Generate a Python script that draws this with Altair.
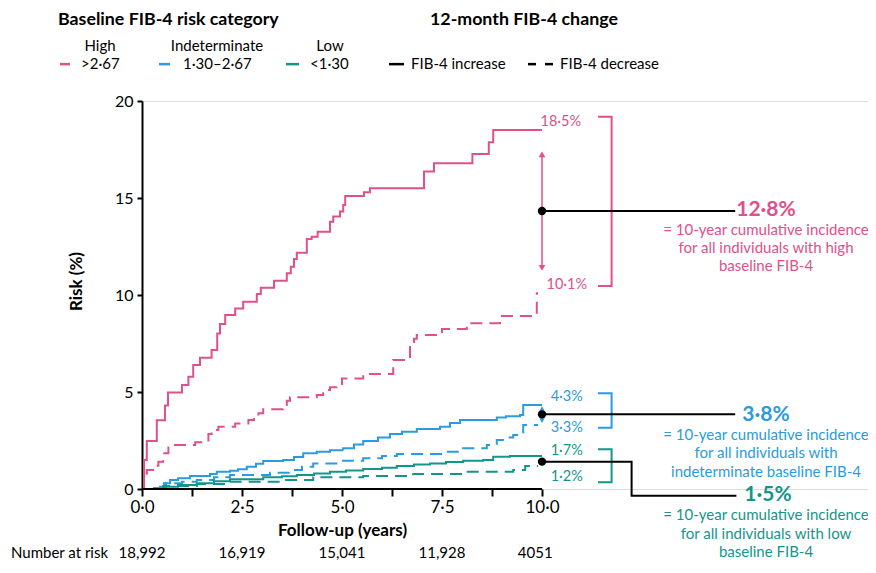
import altair as alt
import pandas as pd

FONT = "Lato"
PINK = "#E0508A"
BLUE = "#2A9BE0"
TEAL = "#13968A"

groups = ["High", "Indeterminate", "Low"]
group_colors = [PINK, BLUE, TEAL]

# ---- Kaplan-Meier style cumulative risk curves (years, %) ----
hi_inc_x = [0, 0.05, 0.12, 0.37, 0.45, 0.575, 0.65, 1.0, 1.16, 1.28, 1.45, 1.74, 1.88, 1.95, 2.08, 2.33, 2.53,
            2.87, 2.97, 3.3, 3.62, 3.72, 3.8, 3.87, 4.12, 4.24, 4.39, 4.7, 4.78, 4.95, 5.03, 5.08, 5.55, 5.7,
            7.05, 7.3, 8.26, 8.67, 8.78, 10.0]
hi_inc_y = [0, 1.5, 2.47, 3.55, 3.55, 4.3, 4.98, 5.36, 5.79, 6.39, 6.77, 7.16, 8.02, 8.5, 8.97, 9.31, 9.65,
            10.05, 10.38, 10.74, 11.12, 11.46, 11.86, 12.18, 12.89, 13.0, 13.26, 13.78, 14.04, 14.3, 14.64, 15.1,
            15.3, 15.5, 16.36, 16.79, 17.27, 17.87, 18.5, 18.5]

hi_dec_x = [0, 0.05, 0.12, 0.33, 0.41, 0.53, 0.66, 1.33, 1.66, 1.74, 1.91, 2.33, 2.66, 2.8, 2.91, 3.03, 3.53,
            3.62, 3.7, 4.37, 4.53, 4.7, 4.86, 5.0, 5.53, 6.28, 6.7, 6.8, 6.87, 7.5, 8.12, 8.95, 9.87, 9.9]
hi_dec_y = [0, 0.5, 0.98, 1.2, 1.41, 1.84, 2.27, 2.41, 2.84, 3.04, 3.21, 3.38, 3.56, 3.75, 3.9, 4.11, 4.33,
            4.55, 4.73, 4.85, 5.1, 5.25, 5.41, 5.7, 5.93, 6.65, 7.51, 7.75, 7.94, 8.25, 8.54, 8.92, 10.09, 10.09]

ind_inc_x = [0, 0.3, 0.45, 0.55, 0.7, 0.9, 1.2, 1.7, 1.87, 2.2, 2.4, 2.62, 2.85, 3.03, 3.53, 3.8, 4.03, 4.37,
             4.7, 5.03, 5.3, 5.53, 5.9, 6.2, 6.5, 6.87, 7.45, 7.7, 7.95, 8.87, 9.1, 9.45, 9.53, 10.0]
ind_inc_y = [0, 0.05, 0.12, 0.3, 0.46, 0.55, 0.67, 0.77, 0.89, 0.94, 1.02, 1.15, 1.3, 1.44, 1.49, 1.65, 1.84,
             1.92, 2.0, 2.1, 2.3, 2.47, 2.65, 2.84, 2.95, 3.09, 3.21, 3.4, 3.56, 3.69, 3.75, 3.81, 4.33, 4.33]

ind_dec_x = [0, 0.3, 0.6, 1.0, 1.37, 1.8, 2.2, 3.2, 3.7, 4.0, 4.28, 4.9, 5.53, 6.0, 6.37, 7.53, 8.03, 8.62,
             8.87, 9.1, 9.28, 9.53, 9.9]
ind_dec_y = [0, 0.08, 0.3, 0.38, 0.46, 0.6, 0.72, 0.84, 0.98, 1.15, 1.32, 1.45, 1.58, 1.7, 1.8, 1.92, 2.1, 2.27,
             2.53, 2.65, 2.78, 3.3, 3.3]

low_inc_x = [0, 0.53, 0.9, 1.37, 1.8, 2.2, 3.03, 3.5, 3.87, 4.3, 4.7, 5.1, 5.53, 6.0, 6.37, 6.8, 7.2, 7.6,
             8.03, 8.53, 8.78, 9.2, 10.0]
low_inc_y = [0, 0.12, 0.2, 0.29, 0.4, 0.5, 0.6, 0.66, 0.72, 0.8, 0.89, 0.96, 1.03, 1.1, 1.19, 1.26, 1.32, 1.39,
             1.46, 1.49, 1.66, 1.7, 1.7]

low_dec_x = [0, 0.53, 1.37, 2.2, 3.45, 4.28, 5.53, 6.78, 8.03, 9.28, 9.58, 9.9]
low_dec_y = [0, 0.15, 0.26, 0.38, 0.46, 0.6, 0.67, 0.77, 0.89, 0.98, 1.19, 1.19]

# ---- end-of-follow-up values and overall 10-year incidence ----
end_labels = ["18·5%", "10·1%", "4·3%", "3·3%", "1·7%", "1·2%"]
end_groups = ["High", "High", "Indeterminate", "Indeterminate", "Low", "Low"]
overall_labels = ["12·8%", "3·8%", "1·5%"]
overall_desc = [
    ["= 10-year cumulative incidence", "for all individuals with high", "baseline FIB-4"],
    ["= 10-year cumulative incidence", "for all individuals with", "indeterminate baseline FIB-4"],
    ["= 10-year cumulative incidence", "for all individuals with low", "baseline FIB-4"],
]

legend_headers = ["High", "Indeterminate", "Low"]
legend_ranges = [">2·67", "1·30–2·67", "<1·30"]
change_labels = ["FIB-4 increase", "FIB-4 decrease"]

risk_times = [0, 2.5, 5.0, 7.5, 9.83]
risk_numbers = ["18,992", "16,919", "15,041", "11,928", "4051"]

x_ticks = [0, 1.25, 2.5, 3.75, 5.0, 6.25, 7.5, 8.75, 10.0]
y_ticks = [0, 5, 10, 15, 20]

# ---------------- build tables ----------------
rows = []
for name, grp, chg, xs_, ys_ in [
    ("hi_inc", "High", "increase", hi_inc_x, hi_inc_y),
    ("hi_dec", "High", "decrease", hi_dec_x, hi_dec_y),
    ("ind_inc", "Indeterminate", "increase", ind_inc_x, ind_inc_y),
    ("ind_dec", "Indeterminate", "decrease", ind_dec_x, ind_dec_y),
    ("low_inc", "Low", "increase", low_inc_x, low_inc_y),
    ("low_dec", "Low", "decrease", low_dec_x, low_dec_y),
]:
    for a, b in zip(xs_, ys_):
        rows.append({"series": name, "group": grp, "change": chg, "x": a, "y": b})
curves = pd.DataFrame(rows)

PLOT_W = 726
XMAX = PLOT_W / 40.0
xscale = alt.Scale(domain=[0, XMAX], nice=False, zero=False)
yscale = alt.Scale(domain=[0, 20], nice=False)
cscale = alt.Scale(domain=groups, range=group_colors)

xaxis = alt.Axis(
    values=x_ticks, domain=False, grid=False, tickSize=7, tickWidth=2, tickColor="black",
    labelExpr="datum.value % 2.5 == 0 ? replace(format(datum.value, '.1f'), '.', '·') : ''",
    labelFont=FONT, labelFontSize=17, labelColor="black", labelPadding=3, labelFlush=False,
    title="Follow-up (years)", titleFont=FONT, titleFontSize=17, titleFontWeight="bold",
    titleColor="black", titleX=200, titleY=41, titleBaseline="middle", titleAlign="center",
)
yaxis = alt.Axis(
    values=y_ticks, grid=False, domainColor="black", domainWidth=2, tickSize=5, tickWidth=2,
    tickColor="black", labelFont=FONT, labelFontSize=16, labelColor="black", labelPadding=4,
    title="Risk (%)", titleFont=FONT, titleFontSize=17, titleFontWeight="bold", titleColor="black",
    titleX=-66, titleY=180, titleBaseline="middle", titleAlign="center", titleAngle=-90,
)

X = alt.X("x:Q", scale=xscale, axis=xaxis)
Y = alt.Y("y:Q", scale=yscale, axis=yaxis)
C = alt.Color("group:N", scale=cscale, legend=None)

lines = alt.Chart(curves).mark_line(interpolate="step-after", strokeWidth=2).encode(
    x=X, y=Y, color=C,
    strokeDash=alt.StrokeDash("change:N", scale=alt.Scale(domain=["increase", "decrease"],
                                                          range=[[1, 0], [12, 7]]), legend=None),
    detail="series:N",
)


def text_layer(df, color=None, **kw):
    enc = dict(x=X, y=Y, text="t:N")
    if color is None:
        enc["color"] = C
        return alt.Chart(df).mark_text(font=FONT, **kw).encode(**enc)
    return alt.Chart(df).mark_text(font=FONT, color=color, **kw).encode(**enc)


# x-axis baseline (0 to 10 only)
axis_line = alt.Chart(pd.DataFrame({"x": [0], "x2": [10], "y": [0]})).mark_rule(
    color="black", strokeWidth=2).encode(x=X, x2="x2:Q", y=Y)

# end labels
end_x = [10.47, 10.62, 10.62, 10.62, 10.62, 10.62]
end_y = [18.93, 10.52, 4.76, 3.16, 1.97, 0.6]
end_df = pd.DataFrame({"x": end_x, "y": end_y, "t": end_labels, "group": end_groups})
end_text = text_layer(end_df, fontSize=14.5, align="center", baseline="middle")

# brackets
br_rows = []
for gid, (top, bot) in zip(groups, [(19.19, 10.46), (4.93, 3.16), (2.05, 0.35)]):
    for i, (bx, by) in enumerate([(11.4, top), (11.74, top), (11.74, bot), (11.4, bot)]):
        br_rows.append({"group": gid, "x": bx, "y": by, "o": i})
brackets = alt.Chart(pd.DataFrame(br_rows)).mark_line(strokeWidth=2).encode(
    x=X, y=Y, order="o:Q", detail="group:N", color=C)

# double arrows
arrow_rule = alt.Chart(pd.DataFrame({"x": [10.0, 10.0], "y": [11.45, 3.6], "y2": [17.2, 4.1],
                                     "group": ["High", "Indeterminate"]})).mark_rule(strokeWidth=1.5).encode(
    x=X, y=Y, y2="y2:Q", color=C)
arrow_up = alt.Chart(pd.DataFrame({"x": [10.0, 10.0], "y": [17.25, 4.15], "group": ["High", "Indeterminate"],
                                   "s": [45, 25]})).mark_point(
    shape="triangle-up", filled=True, opacity=1).encode(
    x=X, y=Y, size=alt.Size("s:Q", scale=None, legend=None), color=C)
arrow_dn = alt.Chart(pd.DataFrame({"x": [10.0, 10.0], "y": [11.4, 3.52], "group": ["High", "Indeterminate"],
                                   "s": [45, 25]})).mark_point(
    shape="triangle-down", filled=True, opacity=1).encode(
    x=X, y=Y, size=alt.Size("s:Q", scale=None, legend=None), color=C)

# leader lines (black)
lead_rows = []
for lid, pts in [("h", [(10.0, 14.33), (14.83, 14.33)]),
                 ("i", [(10.0, 3.85), (14.83, 3.85)]),
                 ("l", [(10.0, 1.41), (12.24, 1.41), (12.24, -0.345), (14.86, -0.345)])]:
    for i, (lx, ly) in enumerate(pts):
        lead_rows.append({"lid": lid, "x": lx, "y": ly, "o": i})
leaders = alt.Chart(pd.DataFrame(lead_rows)).mark_line(color="black", strokeWidth=2).encode(
    x=X, y=Y, order="o:Q", detail="lid:N")
dots = alt.Chart(pd.DataFrame({"x": [10.0, 10.0, 10.0], "y": [14.33, 3.85, 1.41]})).mark_circle(
    color="black", size=70, opacity=1).encode(x=X, y=Y)

# overall values and descriptions
CX = 15.6
ov_df = pd.DataFrame({"x": [CX, CX, CX + 0.05], "y": [14.38, 3.81, -0.3],
                      "t": overall_labels, "group": groups})
ov_text = text_layer(ov_df, fontSize=21, fontWeight="bold", align="center", baseline="middle")
desc_rows = []
for grp, lines3, ys3 in zip(groups, overall_desc,
                            [[13.35, 12.41, 11.51], [2.78, 1.84, 0.89], [-1.36, -2.3, -3.24]]):
    for t, yy in zip(lines3, ys3):
        desc_rows.append({"x": CX, "y": yy, "t": t, "group": grp})
desc_text = text_layer(pd.DataFrame(desc_rows), fontSize=15, align="center", baseline="middle")

# legend block
head_df = pd.DataFrame({"x": [-2.1, 7.2], "y": [24.2, 24.2],
                        "t": ["Baseline FIB-4 risk category", "12-month FIB-4 change"]})
head_text = text_layer(head_df, color="black", fontSize=17.8, fontWeight="bold", align="left",
                       baseline="middle")
lh_df = pd.DataFrame({"x": [-1.05, 1.875, 4.7], "y": [22.84] * 3, "t": legend_headers})
lh_text = text_layer(lh_df, color="black", fontSize=15, align="center", baseline="middle")
lr_df = pd.DataFrame({"x": [-1.525, 1.025, 4.2], "y": [21.9] * 3, "t": legend_ranges, "group": groups})
lr_text = text_layer(lr_df, color="black", fontSize=15, align="left", baseline="middle")
lc_df = pd.DataFrame({"x": [6.725, 10.45], "y": [21.9] * 2, "t": change_labels})
lc_text = text_layer(lc_df, color="black", fontSize=15, align="left", baseline="middle")
sw_df = pd.DataFrame({"x": [-2.05, 0.425, 3.6], "x2": [-1.8, 0.7, 3.925], "y": [21.9] * 3, "group": groups})
swatches = alt.Chart(sw_df).mark_rule(strokeWidth=2.5).encode(x=X, x2="x2:Q", y=Y, color=C)
bsw_df = pd.DataFrame({"x": [6.175, 9.65, 10.075], "x2": [6.55, 9.85, 10.275], "y": [21.9] * 3})
bswatches = alt.Chart(bsw_df).mark_rule(strokeWidth=2.5, color="black").encode(x=X, x2="x2:Q", y=Y)

# number at risk
NAR_Y = -3.3
nar_lab = text_layer(pd.DataFrame({"x": [-3.275], "y": [NAR_Y], "t": ["Number at risk"]}),
                     color="black", fontSize=15, align="left", baseline="middle")
nar_num = text_layer(pd.DataFrame({"x": risk_times, "y": [NAR_Y] * 5, "t": risk_numbers}),
                     color="black", fontSize=15, align="center", baseline="middle")

chart = alt.layer(
    lines, axis_line, brackets, arrow_rule, arrow_up, arrow_dn, leaders, dots,
    end_text, ov_text, desc_text, head_text, lh_text, lr_text, lc_text, swatches, bswatches,
    nar_lab, nar_num,
).properties(
    width=PLOT_W, height=388,
    padding={"left": 134, "top": 93, "right": 0, "bottom": 71},
    autosize=alt.AutoSizeParams(type="none"),
).configure_view(stroke=None).configure(background="white")

chart.save("out.html", embed_options={"renderer": "svg", "actions": False})
